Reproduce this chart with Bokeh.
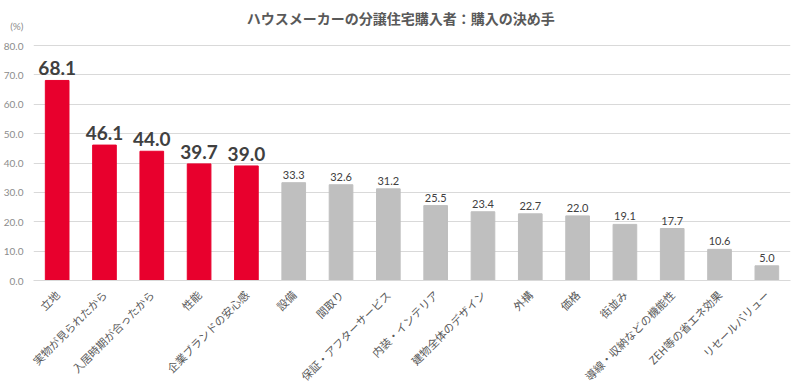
import math
from bokeh.plotting import figure
from bokeh.models import FactorRange, FixedTicker, NumeralTickFormatter, ColumnDataSource
from bokeh.core.properties import value
from bokeh.embed import file_html
from bokeh.resources import INLINE

categories = ["立地", "実物が見られたから", "入居時期が合ったから", "性能", "企業ブランドの安心感",
              "設備", "間取り", "保証・アフターサービス", "内装・インテリア", "建物全体のデザイン",
              "外構", "価格", "街並み", "導線・収納などの機能性", "ZEH等の省エネ効果", "リセールバリュー"]
values = [68.1, 46.1, 44.0, 39.7, 39.0, 33.3, 32.6, 31.2, 25.5, 23.4, 22.7, 22.0, 19.1, 17.7, 10.6, 5.0]
n_highlight = 5
y_ticks = [0, 10, 20, 30, 40, 50, 60, 70, 80]
title_text = "ハウスメーカーの分譲住宅購入者：購入の決め手"
unit_text = "(%)"

RED = "#E8002D"
GRAY = "#BFBFBF"
JP = "Noto Sans CJK JP"

# frame extends to the top of the canvas so the title can be drawn inside it
Y_TOP = 80 * 280 / 235
UNIT_Y = 86.8
TITLE_X = 7.76
TITLE_Y = 89.3

colors = [RED if i < n_highlight else GRAY for i in range(len(categories))]
src = ColumnDataSource(dict(x=categories, top=values, color=colors))

p = figure(width=800, height=392, output_backend="svg", toolbar_location=None, title=None,
           x_range=FactorRange(factors=categories, range_padding=0), y_range=(0, Y_TOP),
           min_border_left=33, min_border_right=10, min_border_top=0, min_border_bottom=112,
           outline_line_color=None, background_fill_color="white", border_fill_color="white")

p.vbar(x="x", top="top", width=0.5, color="color", source=src)

hi = ColumnDataSource(dict(x=categories[:n_highlight], y=values[:n_highlight],
                           label=[f"{v:.1f}" for v in values[:n_highlight]]))
lo = ColumnDataSource(dict(x=categories[n_highlight:], y=values[n_highlight:],
                           label=[f"{v:.1f}" for v in values[n_highlight:]]))
p.text(x="x", y="y", text="label", source=hi, text_align="center", text_baseline="bottom",
       y_offset=-5, text_font=value("Lato"), text_font_style="bold", text_font_size="19px",
       text_color="#404040")
p.text(x="x", y="y", text="label", source=lo, text_align="center", text_baseline="bottom",
       y_offset=-4, text_font=value("Lato"), text_font_size="11px", text_color="#404040")

p.text(x=[TITLE_X], y=[TITLE_Y], text=[title_text], text_align="center", text_baseline="middle",
       text_font=value(JP), text_font_style="bold", text_font_size="14px", text_color="#595959")

p.xgrid.grid_line_color = None
p.ygrid.grid_line_color = "#D9D9D9"
p.ygrid.ticker = FixedTicker(ticks=y_ticks)

p.yaxis.ticker = FixedTicker(ticks=y_ticks + [UNIT_Y])
p.yaxis.formatter = NumeralTickFormatter(format="0.0")
p.yaxis.major_label_overrides = {UNIT_Y: unit_text}
p.yaxis.axis_line_color = None
p.yaxis.major_tick_line_color = None
p.yaxis.minor_tick_line_color = None
p.yaxis.major_label_text_color = "#8C8C8C"
p.yaxis.major_label_text_font = "Lato"
p.yaxis.major_label_text_font_size = "10px"
p.yaxis.major_label_standoff = 4

p.xaxis.major_label_orientation = math.pi / 4
p.xaxis.axis_line_color = "#D9D9D9"
p.xaxis.major_tick_line_color = None
p.xaxis.minor_tick_line_color = None
p.xaxis.major_label_text_font = JP
p.xaxis.major_label_text_font_size = "11px"
p.xaxis.major_label_text_color = "#595959"
p.xaxis.major_label_standoff = 6

open("out.html", "w").write(file_html(p, INLINE))
